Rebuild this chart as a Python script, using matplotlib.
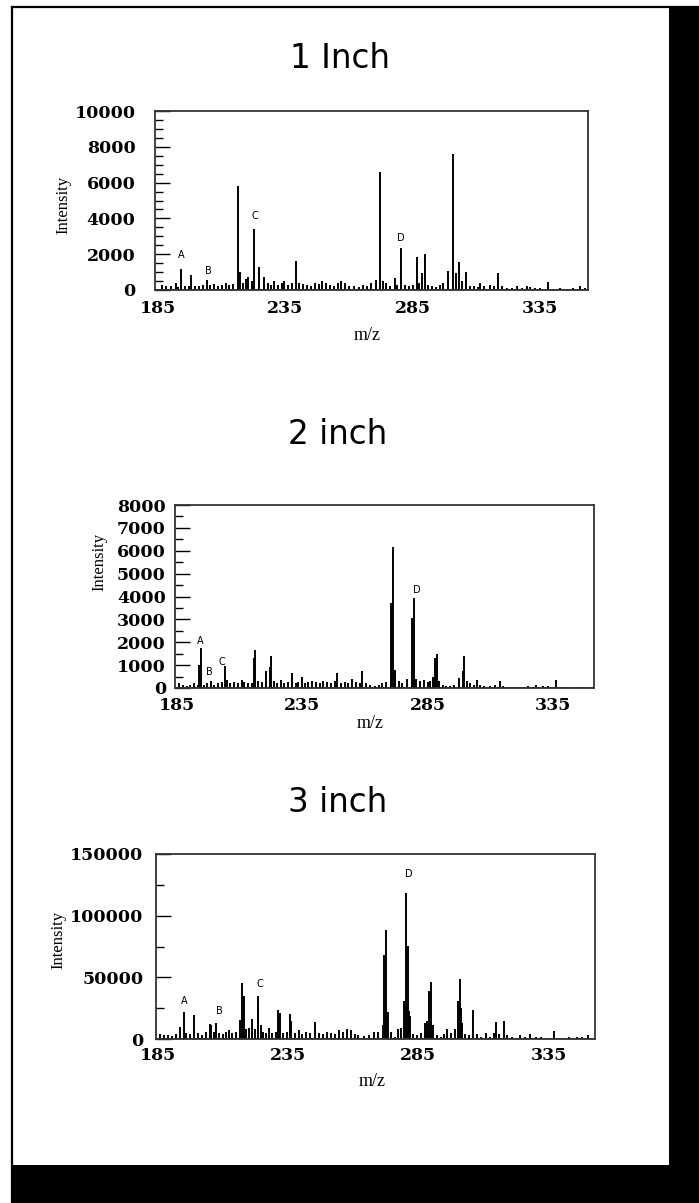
import matplotlib
matplotlib.use("Agg")
import matplotlib.pyplot as plt
from matplotlib.lines import Line2D
from matplotlib.patches import Rectangle
from matplotlib.ticker import MultipleLocator

# ---------------- data ----------------
titles = ["1 Inch", "2 inch", "3 inch"]
xtick_values = [185, 235, 285, 335]

mz_1 = [186.5, 188, 190, 192, 193, 194.1, 195.5, 197, 198, 199.5, 201, 202.5, 204.2, 205.5, 207, 208.5,
        210, 211.5, 213, 214.5, 216.5, 217.3, 218.5, 219.5, 220.5, 222, 222.8, 224.6, 226.6, 228, 229.5,
        230.5, 232, 233.5, 234.5, 236, 237.5, 239, 240.5, 242, 243.5, 245, 246.5, 248, 249.5, 251, 252.5,
        254, 255.5, 257, 258.5, 260, 262, 264, 265.5, 267, 268.5, 270.4, 272.1, 273.2, 274.5, 276, 278,
        279, 280.5, 282, 283.5, 285, 286.5, 287.5, 288.6, 289.8, 291, 292.5, 294, 295.5, 297, 298.7,
        300.8, 302, 303, 304.3, 306, 307.5, 309, 310.5, 311.5, 313, 315.5, 317, 318.5, 320, 322, 324,
        325.8, 328, 330, 331, 333, 335, 338, 340, 343, 346, 348, 350.7, 352.5]
int_1 = [300, 200, 250, 370, 150, 1150, 200, 250, 840, 200, 250, 300, 560, 300, 350, 250,
         300, 400, 300, 350, 5820, 1000, 400, 600, 700, 500, 3380, 1300, 740, 400, 300,
         500, 300, 400, 500, 300, 400, 1640, 400, 350, 300, 250, 400, 350, 500, 400, 300,
         250, 400, 500, 400, 250, 200, 150, 300, 200, 400, 560, 6600, 500, 400, 200, 650,
         300, 2320, 300, 250, 300, 1860, 400, 930, 1990, 300, 200, 150, 300, 400, 1060,
         7580, 930, 1580, 500, 1020, 250, 200, 150, 400, 200, 280, 200, 970, 200, 100, 100,
         220, 100, 200, 150, 100, 100, 460, 80, 100, 80, 120, 200, 100]

mz_2 = [186, 187.5, 189, 190.5, 192, 193.5, 194.1, 194.6, 196, 197, 198.6, 200, 201.5, 203, 204.4, 205,
        206.5, 208, 209.5, 211, 212, 213.5, 215, 216, 216.3, 217.5, 219, 220.6, 222.3, 222.7, 223.7, 225,
        226.6, 228, 229.5, 231, 232.5, 233.5, 234.8, 236, 237.5, 239, 240.5, 242, 243.5, 245, 246.5, 248,
        249, 250.5, 252, 253.5, 255, 256.5, 258, 259, 260.5, 262, 264, 265.5, 267, 268.5, 270.5, 271.2,
        272.2, 273.5, 275, 277, 278.9, 279.5, 280.5, 282, 283.7, 285, 286, 287, 288, 288.7, 289.4, 291,
        292.5, 294, 295.5, 297.5, 299, 299.6, 300.7, 302, 303.5, 304.6, 306, 307.5, 310, 312, 313.8, 315,
        318, 322, 325, 328, 331, 333, 336.2, 340, 345]
int_2 = [200, 150, 100, 150, 200, 150, 1000, 1730, 150, 200, 300, 150, 200, 250, 950, 360,
         200, 250, 200, 360, 250, 200, 200, 1300, 1670, 300, 250, 730, 900, 1410, 290, 200,
         360, 200, 250, 650, 200, 250, 500, 200, 250, 300, 250, 200, 300, 250, 200, 300,
         650, 200, 250, 200, 400, 250, 200, 730, 200, 150, 100, 150, 200, 250, 3700, 6150,
         800, 300, 200, 390, 3050, 3930, 390, 300, 360, 250, 300, 500, 1300, 1480, 290, 150,
         100, 100, 150, 430, 730, 1380, 300, 200, 150, 360, 150, 100, 100, 150, 290, 100,
         60, 60, 80, 150, 100, 80, 360, 50, 50]

mz_3 = [186, 187.5, 189, 190.5, 192, 193.6, 194.9, 196, 197.5, 199, 200.5, 202, 203.5, 204.9, 205.5, 206.5,
        207.2, 208.5, 210, 211, 212.4, 213.5, 215, 216.5, 217.3, 218, 219, 220, 221.3, 222.3, 223.4, 223.6,
        224.5, 225.5, 226.5, 227.5, 229, 230.5, 231.3, 231.8, 233, 234.5, 235.7, 236, 237.5, 239, 240.5,
        242, 243.5, 245.5, 247, 248.5, 250, 251.5, 253, 254.5, 256, 257.5, 259, 260.5, 262, 264, 266,
        267.9, 269.5, 271.3, 271.7, 272.4, 273.4, 274.5, 276, 277.2, 278.2, 279.5, 280.2, 280.9, 281.3,
        281.8, 283, 284.5, 286, 287.7, 288.5, 289.1, 289.8, 290.5, 292, 293.5, 295, 296, 297.5, 299,
        300.3, 300.9, 301.4, 301.8, 303, 304.5, 306, 307.5, 309, 311, 312.5, 314, 314.9, 316, 317.9, 319,
        321, 324, 326, 328, 330, 332, 334, 337, 340, 343, 346, 348, 350.3]
int_3 = [4000, 3000, 3500, 2500, 4000, 10000, 21600, 5000, 4000, 19100, 5000, 3000, 6000, 12100, 11600, 6000,
         13000, 5000, 4000, 6000, 7500, 5000, 6000, 15100, 45300, 34500, 8000, 9000, 16200, 8000, 26400, 35100,
         11600, 6000, 5000, 8900, 5000, 6000, 23700, 21000, 5000, 6000, 20500, 14300, 5000, 7000, 4000,
         6000, 5000, 13500, 5000, 4000, 6000, 5000, 4000, 7000, 6000, 8000, 7500, 4000, 3000, 2500, 3500,
         5400, 6000, 11600, 68200, 88500, 21800, 5400, 2000, 8000, 8900, 30500, 118700, 75500, 22400,
         18300, 4000, 3000, 5000, 12900, 15000, 39100, 45900, 11600, 3000, 2000, 4000, 8100, 5000, 8000,
         30500, 48600, 25100, 12900, 4000, 3000, 23200, 4000, 2000, 4900, 2000, 5000, 13500, 4000, 14800, 3000,
         1500, 3500, 2000, 4000, 2000, 1500, 1000, 6700, 1000, 1500, 1500, 2000, 3500]

label_text = ["A", "B", "C", "D"]
label_mz_1 = [194.1, 204.9, 223.0, 280.5]
label_int_1 = [1950, 1060, 4130, 2920]
label_mz_2 = [194.4, 198.0, 203.2, 280.7]
label_int_2 = [2040, 680, 1130, 4290]
label_mz_3 = [195.0, 208.7, 224.3, 281.2]
label_int_3 = [30500, 22400, 44500, 133500]

ymax = [10000, 8000, 150000]
ymajor = [2000, 1000, 50000]
yminor = [500, 500, 25000]
xlims = [(183.8, 353.8), (184.4, 351.3), (184.3, 352.8)]

# ---------------- layout (pixels) ----------------
W, H = 699, 1203
fig = plt.figure(figsize=(W / 100, H / 100), dpi=100)
fig.patch.set_facecolor("white")

def fx(px):
    return px / W

def fy(py):
    return 1 - py / H

# axes boxes: left, right, top, bottom in pixels
boxes = [(155, 588, 111, 290), (175, 594, 505, 688), (156, 595, 854, 1039)]
title_pos = [(340, 58), (338, 435), (338, 803)]
ylab_pos = [(63, 205), (99, 562), (58, 940)]
xlab_pos = [(367, 335), (370, 723), (372, 1082)]
ytick_pad = [14.0, 6.5, 9.0]
xtick_pad = [7.5, 6.5, 5.5]

series = [(mz_1, int_1, label_mz_1, label_int_1),
          (mz_2, int_2, label_mz_2, label_int_2),
          (mz_3, int_3, label_mz_3, label_int_3)]

tick_font = dict(family="DejaVu Serif", weight="bold", size=12.5)

for i in range(3):
    l, r, t, b = boxes[i]
    ax = fig.add_axes([fx(l), fy(b), fx(r - l), (b - t) / H])
    mz, inten, lmz, lint = series[i]
    ax.vlines(mz, 0, inten, colors="black", linewidth=1.4)
    ax.plot([xlims[i][0], xlims[i][1]], [0, 0], color="black", linewidth=1.8)
    ax.set_xlim(*xlims[i])
    ax.set_ylim(0, ymax[i])
    ax.set_xticks(xtick_values)
    ax.yaxis.set_major_locator(MultipleLocator(ymajor[i]))
    ax.yaxis.set_minor_locator(MultipleLocator(yminor[i]))
    ax.tick_params(axis="y", which="major", direction="in", length=11, width=1.0,
                   pad=ytick_pad[i], colors="black")
    ax.tick_params(axis="y", which="minor", direction="in", length=6, width=1.0)
    ax.tick_params(axis="x", which="both", length=0, pad=xtick_pad[i])
    for lab in ax.get_xticklabels() + ax.get_yticklabels():
        lab.set_fontfamily(tick_font["family"])
        lab.set_fontweight(tick_font["weight"])
        lab.set_fontsize(tick_font["size"])
        lab.set_color("black")
    for sp in ax.spines.values():
        sp.set_linewidth(1.3)
        sp.set_color("#333333")
    for txt, xm, yi in zip(label_text, lmz, lint):
        ax.text(xm, yi, txt, fontsize=7, family="DejaVu Sans", ha="center", va="center", color="black")

    ax.set_ylabel("Intensity", family="Liberation Serif", fontsize=12)
    ax.yaxis.label.set_va("center")
    ax.yaxis.set_label_coords((ylab_pos[i][0] - l) / (r - l), (b - ylab_pos[i][1]) / (b - t))
    ax.set_xlabel("m/z", family="Liberation Serif", fontsize=13)
    ax.xaxis.label.set_va("center")
    ax.xaxis.set_label_coords((xlab_pos[i][0] - l) / (r - l), (b - xlab_pos[i][1]) / (b - t))

    fig.text(fx(title_pos[i][0]), fy(title_pos[i][1]), titles[i], family="DejaVu Sans",
             fontsize=23.5, ha="center", va="center", color="black")

# ---------------- page frame ----------------
fig.add_artist(Line2D([fx(12), 1], [fy(7), fy(7)], color="black", linewidth=1.6))
fig.add_artist(Line2D([fx(12), fx(12)], [fy(7), 0], color="black", linewidth=1.6))
fig.add_artist(Rectangle((fx(669), 0), 1 - fx(669), fy(8), facecolor="black", edgecolor="none"))
fig.add_artist(Rectangle((fx(13), 0), 1 - fx(13), fy(1165), facecolor="black", edgecolor="none"))

fig.savefig("out.png", dpi=100, facecolor="white")
